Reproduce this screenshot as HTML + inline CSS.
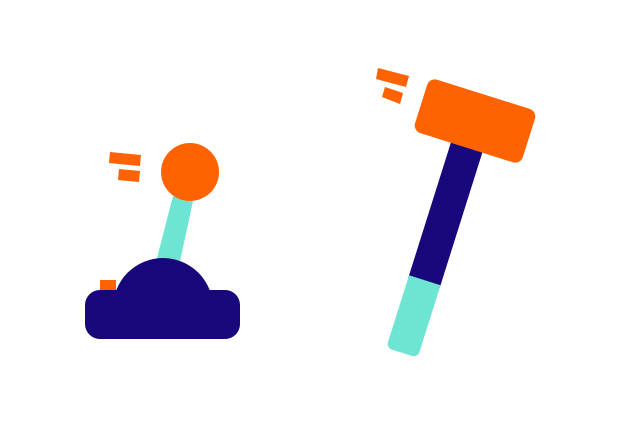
<!DOCTYPE html>
<html><head><meta charset="utf-8"><style>html,body{margin:0;padding:0;background:#fff}svg{display:block}</style></head>
<body>
<svg width="636" height="426" viewBox="0 0 636 426" xmlns="http://www.w3.org/2000/svg">
<rect width="636" height="426" fill="#fff"/>
<!-- joystick -->
<polygon points="110,152 141,155 140,166 109,163" fill="#ff6200"/>
<polygon points="119,169 140,171 139,182 118,180" fill="#ff6200"/>
<polygon points="173,196 193,201 179,266 156,262" fill="#6ee4d3"/>
<circle cx="190" cy="172" r="29" fill="#ff6200"/>
<rect x="100" y="280" width="16" height="12" fill="#ff6200"/>
<path d="M113,308 A50,50 0 0 1 213,308 Z" fill="#17077a"/>
<rect x="85" y="290" width="155" height="49" rx="15" fill="#17077a"/>
<!-- hammer -->
<polygon points="378,68 409,76 406,87 376,79" fill="#ff6200"/>
<polygon points="385,87 403,93 400,104 382,97" fill="#ff6200"/>
<g transform="translate(475,121) rotate(17.5)">
<rect x="-16.5" y="20" width="33" height="150" fill="#17077a"/>
<path d="M-16.5,167 H16.5 V237 a6,6 0 0 1 -6,6 H-10.5 a6,6 0 0 1 -6,-6 Z" fill="#6ee4d3"/>
<rect x="-56.5" y="-28" width="113" height="56" rx="8" fill="#ff6200"/>
</g>
</svg>
</body></html>
